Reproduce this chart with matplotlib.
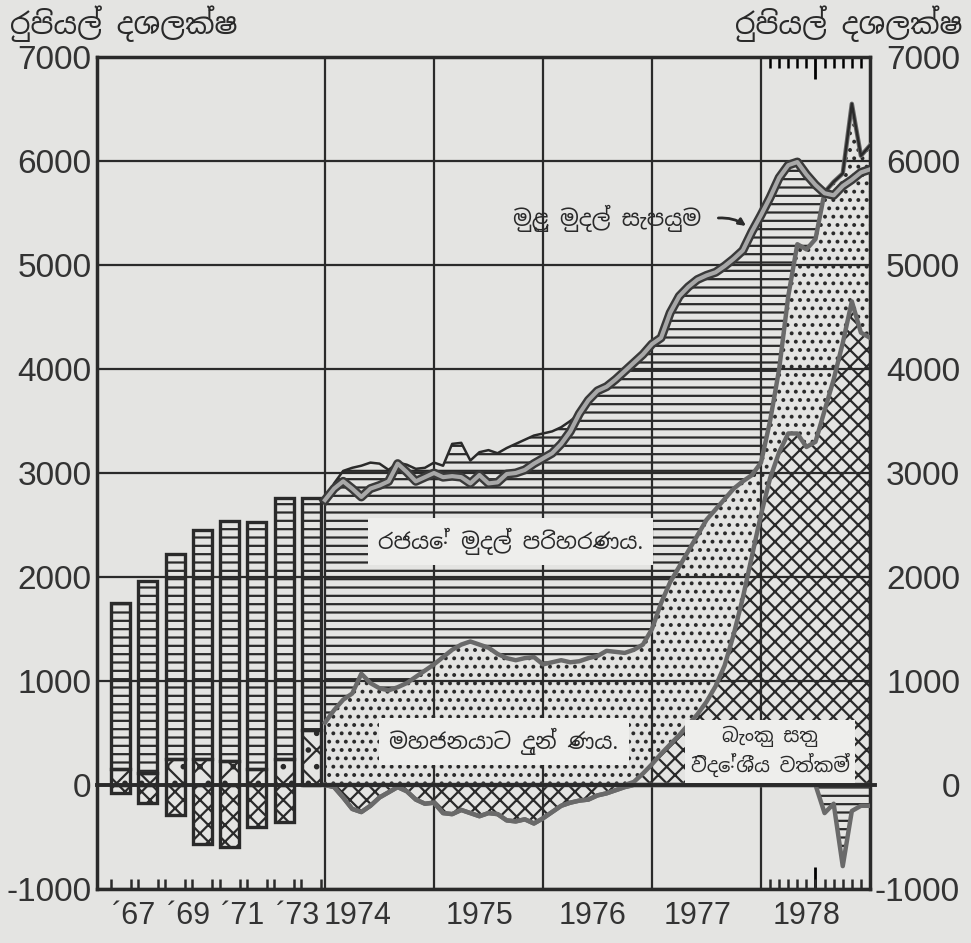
import numpy as np
import matplotlib.pyplot as plt
from matplotlib.transforms import blended_transform_factory

# annual bars, 1966-1973 (Rs. million)
annual_labels = ["´67", "´69", "´71", "´73"]
annual_total = [1750, 1960, 2220, 2450, 2540, 2530, 2760, 2760]
annual_public = [150, 120, 250, 250, 230, 150, 250, 530]
annual_foreign = [-80, -170, -290, -570, -600, -400, -360, 0]

# monthly series, Dec 1973 - Dec 1978 (Rs. million)
year_labels = ["1974", "1975", "1976", "1977", "1978"]
foreign = [0, -20, -120, -230, -260, -200, -120, -70, -20, -60,
           -140, -180, -170, -270, -280, -240, -270, -300, -270, -280,
           -340, -350, -330, -370, -320, -260, -200, -170, -150, -140,
           -100, -80, -50, -20, 30, 110, 200, 300, 390, 480,
           580, 680, 800, 950, 1150, 1450, 1800, 2200, 2600, 2950,
           3200, 3380, 3380, 3250, 3300, 3600, 3900, 4250, 4650, 4350, 4300]
public = [600, 720, 820, 880, 1070, 980, 930, 910, 940, 980,
          1040, 1100, 1160, 1230, 1300, 1350, 1380, 1350, 1320, 1260,
          1220, 1200, 1220, 1230, 1160, 1180, 1200, 1180, 1190, 1220,
          1240, 1290, 1280, 1270, 1270, 1240, 1300, 1450, 1560, 1620,
          1670, 1720, 1750, 1700, 1600, 1400, 1120, 780, 500, 550,
          800, 1320, 1820, 1900, 1950, 2100, 1900, 1630, 1900, 1700, 1850]
government = [2140, 2180, 2200, 2170, 2000, 2120, 2160, 2120, 2160, 2100,
              2000, 1950, 1940, 1840, 1980, 1940, 1740, 1850, 1900, 1930,
              2020, 2080, 2100, 2130, 2220, 2220, 2240, 2320, 2380, 2480,
              2550, 2540, 2620, 2710, 2760, 2790, 2740, 2550, 2590, 2600,
              2540, 2460, 2350, 2280, 2240, 2210, 2220, 2340, 2380, 2150,
              1840, 1260, 790, 720, 520, -270, -180, -780, -250, -200, -200]
money_supply = [2740, 2850, 2920, 2850, 2770, 2850, 2880, 2920, 3090, 3010,
                2920, 2960, 3000, 2960, 2970, 2960, 2900, 2980, 2900, 2910,
                2990, 3000, 3030, 3090, 3140, 3190, 3280, 3400, 3570, 3700,
                3790, 3830, 3900, 3980, 4060, 4140, 4240, 4300, 4540, 4700,
                4790, 4860, 4900, 4930, 4990, 5060, 5140, 5320, 5480, 5650,
                5840, 5960, 5990, 5870, 5770, 5690, 5670, 5760, 5820, 5890, 5920]

paper = '#e4e4e2'
box = '#eeeeec'
ink = '#2a2a2a'
grey = '#6a6a6a'
SI = ['Noto Sans Sinhala', 'Noto Serif Sinhala', 'DejaVu Sans']
NUM = ['Liberation Sans', 'DejaVu Sans']

plt.rcParams['hatch.linewidth'] = 1.6
plt.rcParams['hatch.color'] = ink

fig = plt.figure(figsize=(9.71, 9.43), dpi=100, facecolor=paper)
ax = fig.add_axes([97 / 971, 54 / 943, 773 / 971, 832 / 943], facecolor=paper)
ax.set_xlim(-25.1, 60)
ax.set_ylim(-1000, 7000)

# grid
yticks = list(range(-1000, 8000, 1000))
ax.set_xticks([0, 12, 24, 36, 48])
ax.set_yticks(yticks)
ax.grid(True, color=ink, lw=1.6, zorder=1)
ax.set_axisbelow(True)
ax.tick_params(axis='x', which='major', length=0, labelbottom=False)
ax.tick_params(axis='y', length=0, pad=4)
ax.set_yticklabels([str(v) for v in yticks], family=NUM, size=24, color='#333333')
tr_y = blended_transform_factory(fig.transFigure, ax.transData)
for v in yticks:
    fig.text(960 / 971, v - 30, str(v), transform=tr_y, ha='right', va='center',
             family=NUM, size=24, color='#333333')
for s in ax.spines.values():
    s.set_linewidth(2.5)
    s.set_color(ink)

# annual bars
pos = -22.5 + 3 * np.arange(len(annual_total))
tot = np.array(annual_total)
pub = np.array(annual_public)
ax.bar(pos, tot - pub, 2.1, bottom=pub, facecolor='none', edgecolor=ink,
       hatch='--', lw=2.4, zorder=3)
ax.bar(pos, pub, 2.1, facecolor='none', edgecolor=ink, hatch='x.', lw=2.4, zorder=3)
ax.bar(pos, annual_foreign, 2.1, facecolor='none', edgecolor=ink, hatch='xx',
       lw=2.4, zorder=3)

# monthly stacked areas
m = np.arange(len(foreign))
F = np.array(foreign)
P = np.array(public)
G = np.array(government)
M = np.array(money_supply)
fpos = np.maximum(F, 0)
fneg = np.minimum(F, 0)
dots_top = fpos + P
stack_top = dots_top + np.maximum(G, 0)
gneg = fneg + np.minimum(G, 0)

ax.fill_between(m, 0, fpos, facecolor='none', edgecolor=ink, hatch='xx', lw=0, zorder=2)
ax.fill_between(m, 0, fneg, facecolor='none', edgecolor=ink, hatch='xx', lw=0, zorder=2)
ax.fill_between(m, fpos, dots_top, facecolor='none', edgecolor=ink, hatch='..', lw=0, zorder=2)
ax.fill_between(m, dots_top, stack_top, facecolor='none', edgecolor=ink, hatch='--',
                lw=0, zorder=2)
ax.fill_between(m, fneg, gneg, facecolor='none', edgecolor=ink, hatch='--', lw=0, zorder=2)

for y in (fpos, fneg, dots_top, gneg):
    ax.plot(m, y, color=grey, lw=3.2, zorder=4, solid_joinstyle='round')
ax.plot(m, stack_top, color=ink, lw=1.8, zorder=4)
ax.plot(m, M, color='#3a3a3a', lw=6.5, zorder=5, solid_joinstyle='round')
ax.plot(m, M, color='#a8a8a8', lw=3, zorder=6, solid_joinstyle='round')

# zero line
ax.plot([-25.1, 60.6], [0, 0], color=ink, lw=2.8, zorder=7, clip_on=False)

# small ticks
ax.set_xticks(list(pos - 1.1) + list(pos + 1.1) + list(range(49, 60)), minor=True)
ax.tick_params(axis='x', which='minor', direction='in', length=7, width=1.8,
               color=ink, bottom=True)
top = ax.secondary_xaxis('top')
top.set_xticks([54])
top.set_xticks(range(49, 60), minor=True)
top.tick_params(which='major', direction='in', length=16, width=2, labeltop=False)
top.tick_params(which='minor', direction='in', length=8, width=1.8)
top.spines['top'].set_visible(False)
bot = ax.secondary_xaxis('bottom')
bot.set_xticks([54])
bot.tick_params(direction='in', length=16, width=2, labelbottom=False)
bot.spines['bottom'].set_visible(False)

# x labels
tr = blended_transform_factory(ax.transData, ax.transAxes)
for lab, x in zip(annual_labels, pos[::2] + 1.5):
    ax.text(x, -0.033, lab, transform=tr, ha='center', va='center',
            family=NUM, size=22, color='#333333')
for lab, x in zip(year_labels, [3.6, 17, 29.5, 41, 53]):
    ax.text(x, -0.033, lab, transform=tr, ha='center', va='center',
            family=NUM, size=22, color='#333333')

# titles
for xf, ha in ((10 / 971, 'left'), (962 / 971, 'right')):
    fig.text(xf, 1 - 24 / 943, 'රුපියල් දශලක්ෂ', ha=ha, va='center',
             family=SI, size=21, weight='bold', color=ink)

# labels in the plot
ax.text(31.0, 5450, 'මුළු මුදල් සැපයුම', ha='center', va='center',
        family=SI, size=16, color=ink, zorder=8)
ax.annotate('', xy=(46.6, 5360), xytext=(43, 5450),
            arrowprops=dict(arrowstyle='-|>', lw=2, color=ink,
                            connectionstyle='arc3,rad=-0.2'), zorder=8)
bb = dict(boxstyle='square,pad=0.45', fc=box, ec='none')
ax.text(20.4, 2340, 'රජයේ මුදල් පරිහරණය.', ha='center', va='center',
        family=SI, size=16, color=ink, bbox=bb, zorder=8)
ax.text(19.7, 420, 'මහජනයාට දුන් ණය.', ha='center', va='center',
        family=SI, size=16, color=ink, bbox=bb, zorder=8)
ax.text(49.0, 320, 'බැංකු සතු\nවිදේශීය වත්කම්', ha='center', va='center',
        family=SI, size=14, color=ink, bbox=dict(boxstyle='square,pad=0.3', fc=box, ec='none'),
        linespacing=1.3, zorder=8)

fig.savefig('out.png', dpi=100, facecolor=paper)
